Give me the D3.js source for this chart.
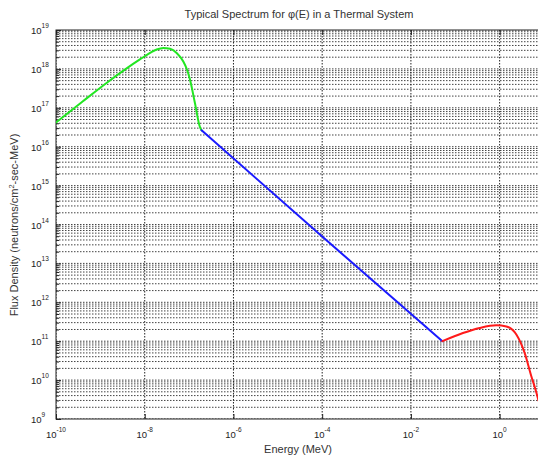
<!DOCTYPE html>
<html><head><meta charset="utf-8">
<script src="https://cdn.jsdelivr.net/npm/d3@7"></script>
<style>
body{margin:0;background:#fff;}
svg{display:block;font-family:"Liberation Sans",Arial,sans-serif;}
</style>
</head><body>
<svg id="chart" width="538" height="456"></svg>
<script>
// ---- data (energies in MeV, flux in neutrons/cm^2-sec-MeV) ----
const thermalE   = [1.0e-10, 3.98e-10, 1.58e-9, 3.98e-9, 7.94e-9, 1.32e-8, 1.86e-8, 2.63e-8, 3.72e-8, 5.25e-8, 7.41e-8, 8.91e-8, 1.05e-7, 1.35e-7, 1.74e-7, 1.91e-7];
const thermalPhi = [4.17e16, 1.45e17, 4.9e17, 1.05e18, 1.78e18, 2.57e18, 3.16e18, 3.47e18, 3.31e18, 2.57e18, 1.55e18, 9.8e17, 5.25e17, 1.35e17, 3.31e16, 2.63e16];
const epiE       = [1.91e-7, 1.0e-4, 5.13e-2];
const epiPhi     = [2.63e16, 4.9e13, 1.0e11];
const fastE      = [5.13e-2, 0.149, 0.355, 0.843, 1.42, 2.38, 3.66, 5.18, 6.92, 7.5];
const fastPhi    = [1.0e11, 1.62e11, 2.19e11, 2.57e11, 2.40e11, 1.48e11, 5.0e10, 1.26e10, 4.27e9, 3.0e9];
const xTickExps  = [-10, -8, -6, -4, -2, 0];
const yTickExps  = [9, 10, 11, 12, 13, 14, 15, 16, 17, 18, 19];
const titleText  = "Typical Spectrum for \u03c6(E) in a Thermal System";
const xLabelText = "Energy (MeV)";

// ---- layout ----
const L = 56, R = 544, T = 30, B = 419;
const svg = d3.select("#chart");
const x = d3.scaleLog().domain([1e-10, 1e1]).range([L, R]);
const y = d3.scaleLog().domain([1e9, 1e19]).range([B, T]);

svg.append("rect").attr("width", 538).attr("height", 456).attr("fill", "#fff");

svg.append("defs").append("clipPath").attr("id", "clip")
  .append("rect").attr("x", L).attr("y", T).attr("width", R - L).attr("height", B - T);

// ---- grid ----
const grid = svg.append("g").attr("clip-path", "url(#clip)");
const hVals = [];
for (let d = 9; d < 19; d++) for (let m = 1; m <= 9; m++) hVals.push(m * Math.pow(10, d));
hVals.push(1e19);
grid.selectAll("line.h").data(hVals).join("line")
  .attr("x1", L).attr("x2", R)
  .attr("y1", d => y(d)).attr("y2", d => y(d))
  .attr("stroke", "#444").attr("stroke-width", 1)
  .attr("stroke-dasharray", "1.5,1.5");
grid.selectAll("line.v").data(xTickExps.map(e => Math.pow(10, e))).join("line")
  .attr("x1", d => x(d)).attr("x2", d => x(d))
  .attr("y1", T).attr("y2", B)
  .attr("stroke", "#222").attr("stroke-width", 1)
  .attr("stroke-dasharray", "1.5,1.5");

// ---- axes frame & ticks ----
const axisG = svg.append("g");
axisG.append("rect").attr("x", L).attr("y", T).attr("width", R - L).attr("height", B - T)
  .attr("fill", "none").attr("stroke", "#222").attr("stroke-width", 1);

const xAxisB = d3.axisBottom(x).tickValues(xTickExps.map(e => Math.pow(10, e)))
  .tickSizeInner(-5).tickSizeOuter(0).tickFormat(() => "");
axisG.append("g").attr("transform", `translate(0,${B})`).call(xAxisB)
  .call(g => g.select(".domain").remove())
  .call(g => g.selectAll("line").attr("stroke", "#222"));
const xAxisT = d3.axisTop(x).tickValues(xTickExps.map(e => Math.pow(10, e)))
  .tickSizeInner(-5).tickSizeOuter(0).tickFormat(() => "");
axisG.append("g").attr("transform", `translate(0,${T})`).call(xAxisT)
  .call(g => g.select(".domain").remove())
  .call(g => g.selectAll("line").attr("stroke", "#222"));

const yAxisL = d3.axisLeft(y).tickValues(yTickExps.map(e => Math.pow(10, e)))
  .tickSizeInner(-5).tickSizeOuter(0).tickFormat(() => "");
axisG.append("g").attr("transform", `translate(${L},0)`).call(yAxisL)
  .call(g => g.select(".domain").remove())
  .call(g => g.selectAll("line").attr("stroke", "#222"));
const yMinor = hVals.filter(v => Math.abs(Math.log10(v) - Math.round(Math.log10(v))) > 1e-9);
const yAxisLm = d3.axisLeft(y).tickValues(yMinor).tickSizeInner(-3).tickSizeOuter(0).tickFormat(() => "");
axisG.append("g").attr("transform", `translate(${L},0)`).call(yAxisLm)
  .call(g => g.select(".domain").remove())
  .call(g => g.selectAll("line").attr("stroke", "#222"));

// ---- tick labels ----
const xl = svg.append("g").attr("fill", "#222");
xTickExps.forEach(e => {
  const t = xl.append("text").attr("x", x(Math.pow(10, e))).attr("y", 438)
    .attr("text-anchor", "middle").attr("font-size", 9.5);
  t.append("tspan").text("10");
  t.append("tspan").attr("dy", -6).attr("font-size", 6.5).text(String(e));
});
const yl = svg.append("g").attr("fill", "#222");
yTickExps.forEach(e => {
  const t = yl.append("text").attr("x", 31).attr("y", y(Math.pow(10, e)) + 4)
    .attr("text-anchor", "start").attr("font-size", 9.5);
  t.append("tspan").text("10");
  t.append("tspan").attr("dy", -6).attr("font-size", 6.5).text(String(e));
});

// ---- curves ----
const smooth = d3.line().x(d => x(d[0])).y(d => y(d[1])).curve(d3.curveMonotoneX);
const curves = svg.append("g").attr("clip-path", "url(#clip)").attr("fill", "none").attr("stroke-width", 2)
  .attr("stroke-linejoin", "round").attr("stroke-linecap", "round");
curves.append("path").datum(thermalE.map((e, i) => [e, thermalPhi[i]]))
  .attr("d", smooth).attr("stroke", "#22e622");
curves.append("path").datum(epiE.map((e, i) => [e, epiPhi[i]]))
  .attr("d", d3.line().x(d => x(d[0])).y(d => y(d[1]))).attr("stroke", "#1a1aff");
curves.append("path").datum(fastE.map((e, i) => [e, fastPhi[i]]))
  .attr("d", smooth).attr("stroke", "#ff1a1a");

// ---- titles ----
svg.append("text").attr("x", 299).attr("y", 18).attr("text-anchor", "middle")
  .attr("font-size", 11).attr("fill", "#333").text(titleText);
svg.append("text").attr("x", 298).attr("y", 453).attr("text-anchor", "middle")
  .attr("font-size", 11).attr("fill", "#333").text(xLabelText);
const yt = svg.append("text").attr("transform", "translate(18,225) rotate(-90)")
  .attr("text-anchor", "middle").attr("font-size", 11).attr("fill", "#333");
yt.append("tspan").text("Flux Density (neutrons/cm");
yt.append("tspan").attr("dy", -4).attr("font-size", 7.5).text("2");
yt.append("tspan").attr("dy", 4).text("-sec-MeV)");
</script>
</body></html>
